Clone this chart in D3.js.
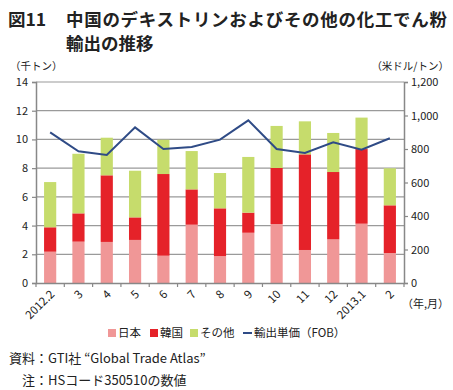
<!DOCTYPE html>
<html><head><meta charset="utf-8">
<script src="https://cdn.jsdelivr.net/npm/d3@7"></script>
<style>
body{margin:0;background:#fff;}
text{font-family:"Noto Sans CJK JP","Noto Sans",sans-serif;}
</style></head>
<body><svg id="c" width="453" height="390"></svg>
<script>
const categories = ["2012.2","3","4","5","6","7","8","9","10","11","12","2013.1","2"];
const japan = [2.18,2.88,2.86,3.0,1.9,4.06,1.88,3.5,4.11,2.3,3.04,4.13,2.09];
const korea = [1.70,1.97,4.64,1.57,5.69,2.46,3.32,1.4,3.9,6.66,4.69,5.2,3.32];
const other = [3.15,4.15,2.62,3.25,2.39,2.67,2.46,3.88,2.93,2.3,2.72,2.19,2.58];
const price = [899,786,764,929,800,812,856,971,800,776,840,796,864];
const leftTicks = [0,2,4,6,8,10,12,14];
const rightTicks = [0,200,400,600,800,1000,1200];
const rightTickLabels = ["0","200","400","600","800","1,000","1,200"];
const seriesNames = ["日本","韓国","その他","輸出単価（FOB）"];
const colors = ["#f09797","#e52229","#c6dc6c","#2f4b86"];

const svg = d3.select("#c");
const L = 36, R = 404, T = 82, B = 283;
const x = d3.scaleBand().domain(categories).range([L, R]).paddingInner(0.57).paddingOuter(0.285);
const y = d3.scaleLinear().domain([0,14]).range([B, T]);
const y2 = d3.scaleLinear().domain([0,1200]).range([B, T]);

// title
const title = svg.append("g").attr("font-weight","bold").attr("font-size","17.5px").attr("fill","#222");
title.append("text").attr("x",8).attr("y",26).text("図11");
title.append("text").attr("x",66).attr("y",26).attr("textLength",381).text("中国のデキストリンおよびその他の化工でん粉");
title.append("text").attr("x",66).attr("y",50).text("輸出の推移");

// units
svg.append("text").attr("x",10).attr("y",70).attr("font-size","10.5px").attr("fill","#222").text("（千トン）");
svg.append("text").attr("x",449).attr("y",70).attr("text-anchor","end").attr("font-size","10.5px").attr("fill","#222").text("（米ドル/トン）");

// gridlines
svg.append("g").selectAll("line").data(leftTicks.filter(d=>d>0)).join("line")
  .attr("x1",L).attr("x2",R).attr("y1",d=>y(d)).attr("y2",d=>y(d))
  .attr("stroke","#9a9a9a").attr("stroke-width",1.2);

// stacked bars
const stackData = categories.map((c,i)=>({cat:c, japan:japan[i], korea:korea[i], other:other[i]}));
const stack = d3.stack().keys(["japan","korea","other"])(stackData);
svg.append("g").selectAll("g").data(stack).join("g")
  .attr("fill",(d,i)=>colors[i])
  .selectAll("rect").data(d=>d).join("rect")
  .attr("x",d=>x(d.data.cat)).attr("width",x.bandwidth())
  .attr("y",d=>y(d[1])).attr("height",d=>y(d[0])-y(d[1]));

// line
const line = d3.line().x((d,i)=>x(categories[i])+x.bandwidth()/2).y(d=>y2(d));
svg.append("path").datum(price).attr("d",line).attr("fill","none")
  .attr("stroke",colors[3]).attr("stroke-width",2);

// axes
const axisColor = "#888";
const gl = svg.append("g").attr("transform",`translate(${L},0)`)
  .call(d3.axisLeft(y).tickValues(leftTicks).tickSize(4).tickPadding(4));
const gr = svg.append("g").attr("transform",`translate(${R},0)`)
  .call(d3.axisRight(y2).tickValues(rightTicks).tickFormat((d,i)=>rightTickLabels[i]).tickSize(4).tickPadding(3));
const gb = svg.append("g").attr("transform",`translate(0,${B})`)
  .call(d3.axisBottom(x).tickSize(0).tickFormat(""));
// band boundary ticks
const bounds = categories.map(c=>x(c)-x.step()*x.paddingInner()/2).concat([R]);
svg.append("g").selectAll("line").data(bounds).join("line")
  .attr("x1",d=>d).attr("x2",d=>d).attr("y1",B).attr("y2",B+4)
  .attr("stroke",axisColor).attr("stroke-width",1.2);
[gl,gr,gb].forEach(g=>{
  g.select(".domain").attr("stroke",axisColor).attr("stroke-width",1.5);
  g.selectAll(".tick line").attr("stroke",axisColor).attr("stroke-width",1.2);
  g.selectAll(".tick text").attr("font-size","11px").attr("fill","#222")
    .attr("font-family","'Open Sans','Noto Sans',sans-serif");
});

// x labels rotated
svg.append("g").selectAll("text").data(categories).join("text")
  .attr("transform",d=>`translate(${x(d)+x.bandwidth()/2+5},${B+12}) rotate(-45)`)
  .attr("text-anchor","end").attr("font-size","11.5px").attr("fill","#222")
  .attr("font-family","'Open Sans','Noto Sans',sans-serif")
  .text(d=>d);
svg.append("text").attr("x",402).attr("y",308).attr("font-size","11px").attr("fill","#222").text("（年,月）");

// legend
const lg = svg.append("g").attr("font-size","11.5px").attr("fill","#222");
const items = [{x:108,t:0},{x:150,t:0},{x:190,t:0},{x:243,t:1}];
items.forEach((it,i)=>{
  if(it.t===0){
    lg.append("rect").attr("x",it.x).attr("y",329).attr("width",8).attr("height",8).attr("fill",colors[i]);
    lg.append("text").attr("x",it.x+10).attr("y",337).text(seriesNames[i]);
  } else {
    lg.append("line").attr("x1",it.x).attr("x2",it.x+9).attr("y1",333).attr("y2",333).attr("stroke",colors[i]).attr("stroke-width",2);
    lg.append("text").attr("x",it.x+11).attr("y",337).text(seriesNames[i]);
  }
});

// notes
svg.append("text").attr("x",9).attr("y",363).attr("font-size","13px").attr("fill","#222").text("資料：GTI社 “Global Trade Atlas”");
svg.append("text").attr("x",22).attr("y",385).attr("font-size","13px").attr("fill","#222").text("注：HSコード350510の数値");
</script></body></html>
